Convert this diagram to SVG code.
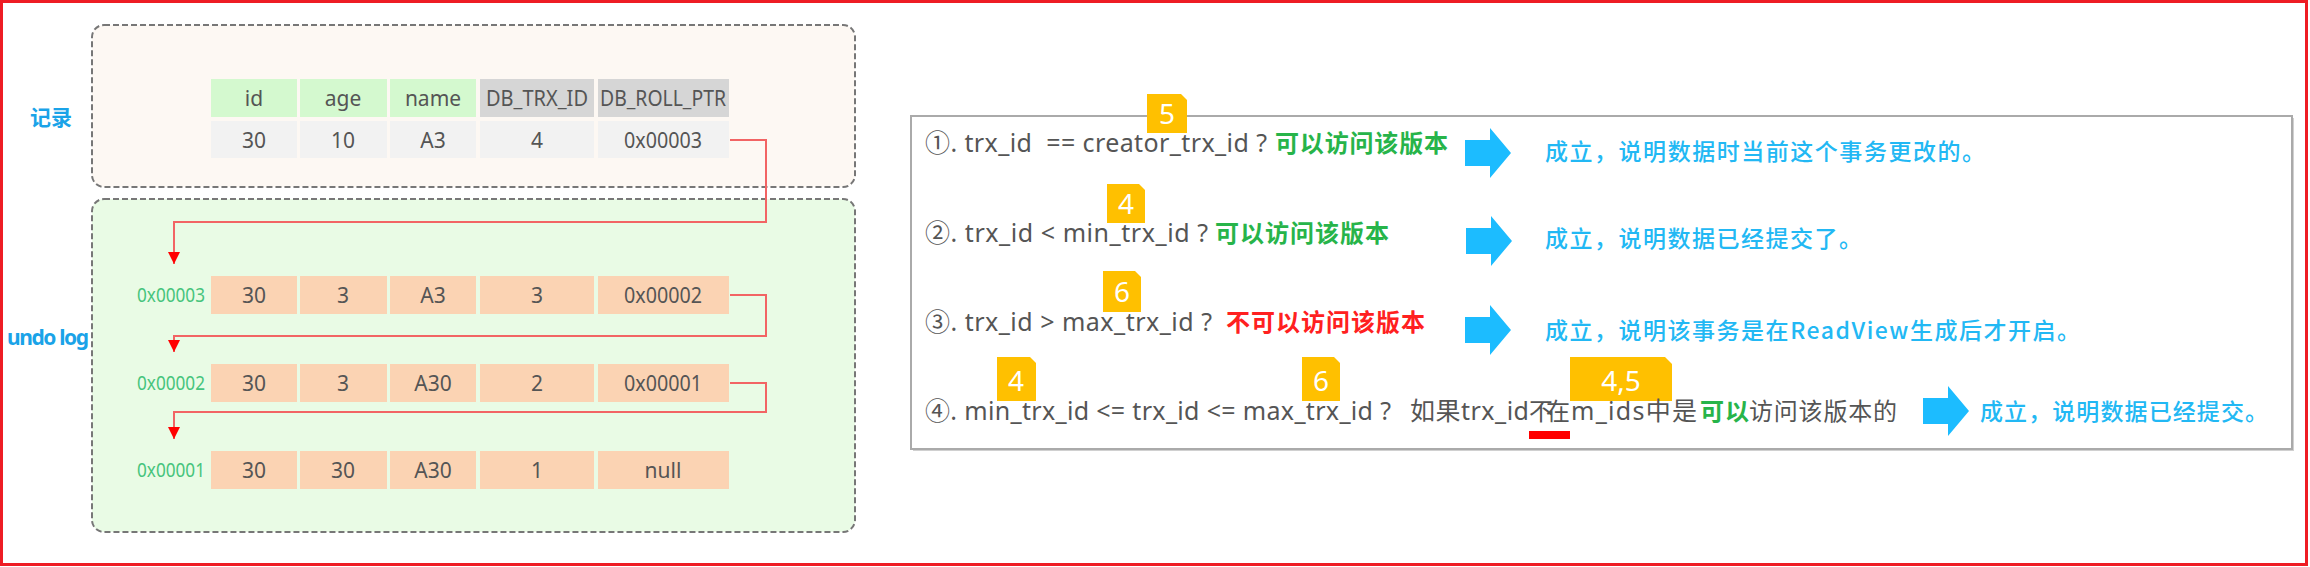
<svg xmlns="http://www.w3.org/2000/svg" xmlns:xlink="http://www.w3.org/1999/xlink" width="2310" height="567" viewBox="0 0 2310 567">
<style>
.cell{font-family:"Noto Sans","Noto Sans CJK SC",sans-serif;font-size:21px;fill:#555;text-anchor:middle;dominant-baseline:central}
.addr{font-family:"Noto Sans",sans-serif;font-size:19px;fill:#46c47c;text-anchor:end;dominant-baseline:central}
.lbl{font-family:"Noto Sans","Noto Sans CJK SC",sans-serif;font-weight:bold;fill:#1aa3e8;dominant-baseline:central}
.t{font-family:"Noto Sans","Noto Sans CJK SC",sans-serif;font-size:25px;fill:#555;white-space:pre}
.c{font-family:"Noto Sans CJK SC",sans-serif;font-size:24px;fill:#555}
.g{fill:#27b44a;font-weight:bold}
.r{fill:#ff2020;font-weight:bold}
.b{font-family:"Noto Sans CJK SC",sans-serif;font-size:23px;fill:#22b8f4;font-weight:500}
.badge{fill:#ffc000}
.bt{font-family:"Noto Sans",sans-serif;font-size:28px;fill:#fff;text-anchor:middle}
.hg{fill:#d4f9cf}.hy{fill:#d6d6d6}.rw{fill:#f2f2f2}.pc{fill:#fbd3b3}
.conn{fill:none;stroke:#f26464;stroke-width:2}
.barrow{fill:#1cbcff}
</style>
<defs>
<marker id="ah" markerWidth="14" markerHeight="14" refX="7" refY="12" orient="0" markerUnits="userSpaceOnUse">
<path d="M1,0 L13,0 L7,12 Z" fill="#ff0000"/>
</marker>
<path id="arr" d="M0,-13 H25 V-25 L46,0 L25,25 V13 H0 Z"/>
</defs>
<rect x="1.5" y="1.5" width="2305" height="563" fill="#fff" stroke="#ee1c24" stroke-width="3"/>

<g id="record-box">
<rect x="92" y="25" width="763" height="162" rx="12" fill="#fdf8f3" stroke="#777" stroke-width="2" stroke-dasharray="6 3"/>
<text class="lbl" x="30" y="117" font-size="21">记录</text>
</g>
<g id="undo-box">
<rect x="92" y="199" width="763" height="333" rx="12" fill="#e9fbe5" stroke="#777" stroke-width="2" stroke-dasharray="6 3"/>
<text class="lbl" x="7" y="337" font-size="21" textLength="82">undo log</text>
</g>

<g id="header-row">
<rect class="hg" x="211" y="79" width="86" height="38"/>
<rect class="hg" x="300" y="79" width="87" height="38"/>
<rect class="hg" x="390" y="79" width="86" height="38"/>
<rect class="hy" x="480" y="79" width="114" height="38"/>
<rect class="hy" x="598" y="79" width="131" height="38"/>
<text class="cell" x="254" y="98">id</text>
<text class="cell" x="343" y="98">age</text>
<text class="cell" x="433" y="98">name</text>
<text class="cell" x="537" y="98" textLength="102" lengthAdjust="spacingAndGlyphs">DB_TRX_ID</text>
<text class="cell" x="663" y="98" textLength="126" lengthAdjust="spacingAndGlyphs">DB_ROLL_PTR</text>
</g>

<g id="record-row">
<rect class="rw" x="211" y="121" width="86" height="37"/>
<rect class="rw" x="300" y="121" width="87" height="37"/>
<rect class="rw" x="390" y="121" width="86" height="37"/>
<rect class="rw" x="480" y="121" width="114" height="37"/>
<rect class="rw" x="598" y="121" width="131" height="37"/>
<text class="cell" x="254" y="140">30</text>
<text class="cell" x="343" y="140">10</text>
<text class="cell" x="433" y="140">A3</text>
<text class="cell" x="537" y="140">4</text>
<text class="cell" x="663" y="140" textLength="78" lengthAdjust="spacingAndGlyphs">0x00003</text>
</g>

<g id="undo-row-1">
<text class="addr" x="205" y="295" textLength="68" lengthAdjust="spacingAndGlyphs">0x00003</text>
<rect class="pc" x="211" y="276" width="86" height="38"/>
<rect class="pc" x="300" y="276" width="87" height="38"/>
<rect class="pc" x="390" y="276" width="86" height="38"/>
<rect class="pc" x="480" y="276" width="114" height="38"/>
<rect class="pc" x="598" y="276" width="131" height="38"/>
<text class="cell" x="254" y="295">30</text>
<text class="cell" x="343" y="295">3</text>
<text class="cell" x="433" y="295">A3</text>
<text class="cell" x="537" y="295">3</text>
<text class="cell" x="663" y="295" textLength="78" lengthAdjust="spacingAndGlyphs">0x00002</text>
</g>

<g id="undo-row-2">
<text class="addr" x="205" y="383" textLength="68" lengthAdjust="spacingAndGlyphs">0x00002</text>
<rect class="pc" x="211" y="364" width="86" height="38"/>
<rect class="pc" x="300" y="364" width="87" height="38"/>
<rect class="pc" x="390" y="364" width="86" height="38"/>
<rect class="pc" x="480" y="364" width="114" height="38"/>
<rect class="pc" x="598" y="364" width="131" height="38"/>
<text class="cell" x="254" y="383">30</text>
<text class="cell" x="343" y="383">3</text>
<text class="cell" x="433" y="383">A30</text>
<text class="cell" x="537" y="383">2</text>
<text class="cell" x="663" y="383" textLength="78" lengthAdjust="spacingAndGlyphs">0x00001</text>
</g>

<g id="undo-row-3">
<text class="addr" x="205" y="470" textLength="68" lengthAdjust="spacingAndGlyphs">0x00001</text>
<rect class="pc" x="211" y="451" width="86" height="38"/>
<rect class="pc" x="300" y="451" width="87" height="38"/>
<rect class="pc" x="390" y="451" width="86" height="38"/>
<rect class="pc" x="480" y="451" width="114" height="38"/>
<rect class="pc" x="598" y="451" width="131" height="38"/>
<text class="cell" x="254" y="470">30</text>
<text class="cell" x="343" y="470">30</text>
<text class="cell" x="433" y="470">A30</text>
<text class="cell" x="537" y="470">1</text>
<text class="cell" x="663" y="470">null</text>
</g>

<g id="connectors">
<path class="conn" d="M730,140 H766 V222 H174 V264" marker-end="url(#ah)"/>
<path class="conn" d="M730,295 H766 V336 H174 V352" marker-end="url(#ah)"/>
<path class="conn" d="M730,383 H766 V412 H174 V439" marker-end="url(#ah)"/>
</g>

<g id="rules-box">
<rect x="913" y="118" width="1381" height="333" fill="#d0d0d0"/>
<rect x="911" y="116" width="1381" height="333" fill="#fff" stroke="#aaa" stroke-width="2"/>
</g>

<g id="rule-1">
<path class="badge" d="M1147,94 H1181 L1187,100 V133 H1147 Z"/>
<text class="bt" x="1167" y="124">5</text>
<text class="t" x="925" y="152" textLength="342">①. trx_id  == creator_trx_id ?</text>
<text class="c g" x="1275" y="152" textLength="173">可以访问该版本</text>
<use xlink:href="#arr" class="barrow" x="1465" y="153"/>
<text class="b" x="1545" y="160" textLength="440">成立，说明数据时当前这个事务更改的。</text>
</g>

<g id="rule-2">
<path class="badge" d="M1107,184 H1139 L1145,190 V223 H1107 Z"/>
<text class="bt" x="1126" y="214">4</text>
<text class="t" x="925" y="242" textLength="283">②. trx_id &lt; min_trx_id ?</text>
<text class="c g" x="1215" y="242" textLength="174">可以访问该版本</text>
<use xlink:href="#arr" class="barrow" x="1466" y="241"/>
<text class="b" x="1545" y="247" textLength="317">成立，说明数据已经提交了。</text>
</g>

<g id="rule-3">
<path class="badge" d="M1103,271 H1135 L1141,277 V312 H1103 Z"/>
<text class="bt" x="1122" y="302">6</text>
<text class="t" x="925" y="331" textLength="287">③. trx_id &gt; max_trx_id ?</text>
<text class="c r" x="1226" y="331" textLength="199">不可以访问该版本</text>
<use xlink:href="#arr" class="barrow" x="1465" y="330"/>
<text class="b" x="1545" y="339" textLength="535">成立，说明该事务是在ReadView生成后才开启。</text>
</g>

<g id="rule-4">
<path class="badge" d="M997,357 H1030 L1036,363 V401 H997 Z"/>
<text class="bt" x="1016" y="391">4</text>
<path class="badge" d="M1302,357 H1334 L1340,363 V401 H1302 Z"/>
<text class="bt" x="1321" y="391">6</text>
<path class="badge" d="M1570,357 H1665 L1672,364 V401 H1570 Z"/>
<text class="bt" x="1621" y="391">4,5</text>
<text class="t" x="925" y="420" textLength="466">④. min_trx_id &lt;= trx_id &lt;= max_trx_id ?</text>
<text class="t" x="1410" y="420" textLength="119">如果trx_id</text>
<text class="c" x="1529" y="420" textLength="41">不在</text>
<rect x="1529" y="431" width="41" height="8" fill="#ff0000"/>
<text class="t" x="1571" y="420" textLength="126">m_ids中是</text>
<text class="c g" x="1700" y="420" textLength="49">可以</text>
<text class="c" x="1749" y="420" textLength="148">访问该版本的</text>
<use xlink:href="#arr" class="barrow" x="1923" y="411"/>
<text class="b" x="1980" y="420" textLength="288">成立，说明数据已经提交。</text>
</g>
</svg>
